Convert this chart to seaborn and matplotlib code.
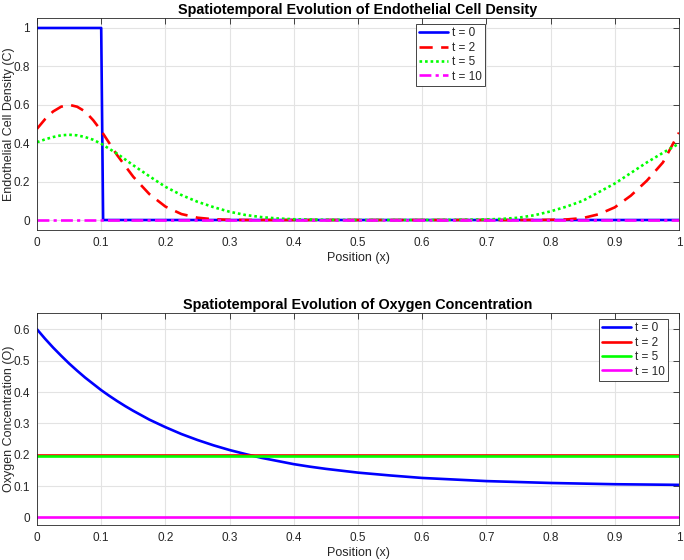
import matplotlib
matplotlib.use("Agg")
import matplotlib.pyplot as plt
import seaborn as sns
import pandas as pd

# ---------------- data ----------------
x_c0 = [0.0, 0.1, 0.103, 1.0]
c_t0 = [1.0, 1.0, 0.0, 0.0]

x_c = [0, 0.0125, 0.025, 0.0375, 0.05, 0.0625, 0.075, 0.0875, 0.1, 0.125, 0.15,
       0.175, 0.2, 0.225, 0.25, 0.275, 0.3, 0.325, 0.35, 0.375, 0.4, 0.45, 0.5,
       0.55, 0.6, 0.65, 0.7, 0.725, 0.75, 0.775, 0.8, 0.825, 0.85, 0.875, 0.9,
       0.925, 0.95, 0.975, 1.0]
c_t2 = [0.475, 0.525, 0.565, 0.59, 0.60, 0.59, 0.565, 0.52, 0.465, 0.337, 0.225,
        0.135, 0.07, 0.031, 0.012, 0.004, 0.001, 0, 0, 0, 0, 0, 0,
        0, 0, 0, 0, 0, 0, 0, 0.001, 0.003, 0.01, 0.03, 0.066,
        0.127, 0.205, 0.30, 0.455]
c_t5 = [0.405, 0.42, 0.432, 0.441, 0.444, 0.441, 0.432, 0.418, 0.397, 0.345, 0.285,
        0.228, 0.173, 0.13, 0.095, 0.067, 0.043, 0.026, 0.015, 0.008, 0.004, 0.001, 0,
        0, 0, 0.001, 0.003, 0.006, 0.012, 0.025, 0.045, 0.07, 0.1, 0.145, 0.19,
        0.245, 0.30, 0.35, 0.398]
x_c10 = [0.0, 1.0]
c_t10 = [0.0, 0.0]

x_o = [0, 0.0125, 0.025, 0.0375, 0.05, 0.0625, 0.075, 0.0875, 0.1, 0.1125, 0.125,
       0.1375, 0.15, 0.1625, 0.175, 0.1875, 0.2, 0.225, 0.25, 0.275, 0.3, 0.325,
       0.35, 0.375, 0.4, 0.425, 0.45, 0.475, 0.5, 0.55, 0.6, 0.65, 0.7, 0.75,
       0.8, 0.85, 0.9, 0.95, 1.0]
o_t0 = [0.6, 0.570, 0.542, 0.516, 0.491, 0.468, 0.446, 0.426, 0.406, 0.388, 0.371,
        0.355, 0.340, 0.326, 0.312, 0.300, 0.288, 0.266, 0.247, 0.230, 0.215, 0.202,
        0.190, 0.180, 0.170, 0.162, 0.155, 0.149, 0.143, 0.134, 0.126, 0.121, 0.116,
        0.113, 0.110, 0.108, 0.106, 0.105, 0.104]
x_flat = [0.0, 1.0]
o_t2 = [0.2, 0.2]
o_t5 = [0.195, 0.195]
o_t10 = [0.0, 0.0]

labels = ["t = 0", "t = 2", "t = 5", "t = 10"]
x_ticks = [0, 0.1, 0.2, 0.3, 0.4, 0.5, 0.6, 0.7, 0.8, 0.9, 1]
x_ticklabels = ["0", "0.1", "0.2", "0.3", "0.4", "0.5", "0.6", "0.7", "0.8", "0.9", "1"]
c_yticks = [0, 0.2, 0.4, 0.6, 0.8, 1]
c_yticklabels = ["0", "0.2", "0.4", "0.6", "0.8", "1"]
o_yticks = [0, 0.1, 0.2, 0.3, 0.4, 0.5, 0.6]
o_yticklabels = ["0", "0.1", "0.2", "0.3", "0.4", "0.5", "0.6"]

# ---------------- style ----------------
sns.set_style("white")
plt.rcParams["font.family"] = ["Liberation Sans", "DejaVu Sans"]
dark = "#262626"

fig = plt.figure(figsize=(6.84, 5.6), dpi=100)
ax1 = fig.add_axes([37/684, 1-230/560, 642/684, 212/560])
ax2 = fig.add_axes([37/684, 1-525/560, 642/684, 212/560])

def style_axes(ax, yticks, yticklabels, ylim):
    ax.set_xlim(0, 1)
    ax.set_ylim(*ylim)
    ax.set_xticks(x_ticks)
    ax.set_xticklabels(x_ticklabels)
    ax.set_yticks(yticks)
    ax.set_yticklabels(yticklabels)
    ax.grid(True, color="#e3e3e3", linewidth=0.8)
    ax.set_axisbelow(True)
    for s in ax.spines.values():
        s.set_color(dark)
        s.set_linewidth(0.6)
    ax.tick_params(direction="in", length=4, width=0.6, color=dark,
                   labelsize=8.5, labelcolor=dark, top=True, right=True, pad=5)

def style_legend(leg):
    leg.get_frame().set_edgecolor(dark)
    leg.get_frame().set_linewidth(0.6)
    leg.get_frame().set_alpha(1)
    for t in leg.get_texts():
        t.set_color(dark)

lw = 1.9
leg_kw = dict(fontsize=8.5, frameon=True, fancybox=False, handlelength=2.4,
              handletextpad=0.35, borderpad=0.3, labelspacing=0.2,
              borderaxespad=0)

# ---- top panel ----
sns.lineplot(data=pd.DataFrame({"x": x_c0, "y": c_t0}), x="x", y="y", ax=ax1,
             color="#0000ff", lw=lw, label=labels[0])
sns.lineplot(data=pd.DataFrame({"x": x_c, "y": c_t2}), x="x", y="y", ax=ax1,
             color="#ff0000", lw=lw, label=labels[1])
ax1.lines[-1].set_linestyle((0, (5, 3.2)))
sns.lineplot(data=pd.DataFrame({"x": x_c, "y": c_t5}), x="x", y="y", ax=ax1,
             color="#00ff00", lw=lw, label=labels[2])
ax1.lines[-1].set_linestyle((0, (1, 1.1)))
sns.lineplot(data=pd.DataFrame({"x": x_c10, "y": c_t10}), x="x", y="y", ax=ax1,
             color="#ff00ff", lw=lw, label=labels[3])
ax1.lines[-1].set_linestyle((0, (4.5, 1.6, 1.2, 1.6)))

style_axes(ax1, c_yticks, c_yticklabels, (-0.052, 1.052))
ax1.set_title("Spatiotemporal Evolution of Endothelial Cell Density",
              fontsize=10.4, fontweight="bold", color="black", pad=3)
ax1.set_xlabel("Position (x)", fontsize=9, color=dark, labelpad=2)
ax1.set_ylabel("Endothelial Cell Density (C)", fontsize=9, color=dark)
ax1.yaxis.set_label_coords(-0.035, 0.5)
h, l = ax1.get_legend_handles_labels()
leg1 = ax1.legend(h, l, loc="upper left", bbox_to_anchor=(0.590, 0.972), **leg_kw)
style_legend(leg1)

# ---- bottom panel ----
sns.lineplot(data=pd.DataFrame({"x": x_o, "y": o_t0}), x="x", y="y", ax=ax2,
             color="#0000ff", lw=lw, label=labels[0])
sns.lineplot(data=pd.DataFrame({"x": x_flat, "y": o_t2}), x="x", y="y", ax=ax2,
             color="#ff0000", lw=lw, label=labels[1])
sns.lineplot(data=pd.DataFrame({"x": x_flat, "y": o_t5}), x="x", y="y", ax=ax2,
             color="#00ff00", lw=lw, label=labels[2])
sns.lineplot(data=pd.DataFrame({"x": x_flat, "y": o_t10}), x="x", y="y", ax=ax2,
             color="#ff00ff", lw=lw, label=labels[3])

style_axes(ax2, o_yticks, o_yticklabels, (-0.024, 0.652))
ax2.set_title("Spatiotemporal Evolution of Oxygen Concentration",
              fontsize=10.4, fontweight="bold", color="black", pad=3)
ax2.set_xlabel("Position (x)", fontsize=9, color=dark, labelpad=2)
ax2.set_ylabel("Oxygen Concentration (O)", fontsize=9, color=dark)
ax2.yaxis.set_label_coords(-0.035, 0.5)
h, l = ax2.get_legend_handles_labels()
leg2 = ax2.legend(h, l, loc="upper right", bbox_to_anchor=(0.983, 0.972), **leg_kw)
style_legend(leg2)

fig.savefig("out.png", dpi=100)
